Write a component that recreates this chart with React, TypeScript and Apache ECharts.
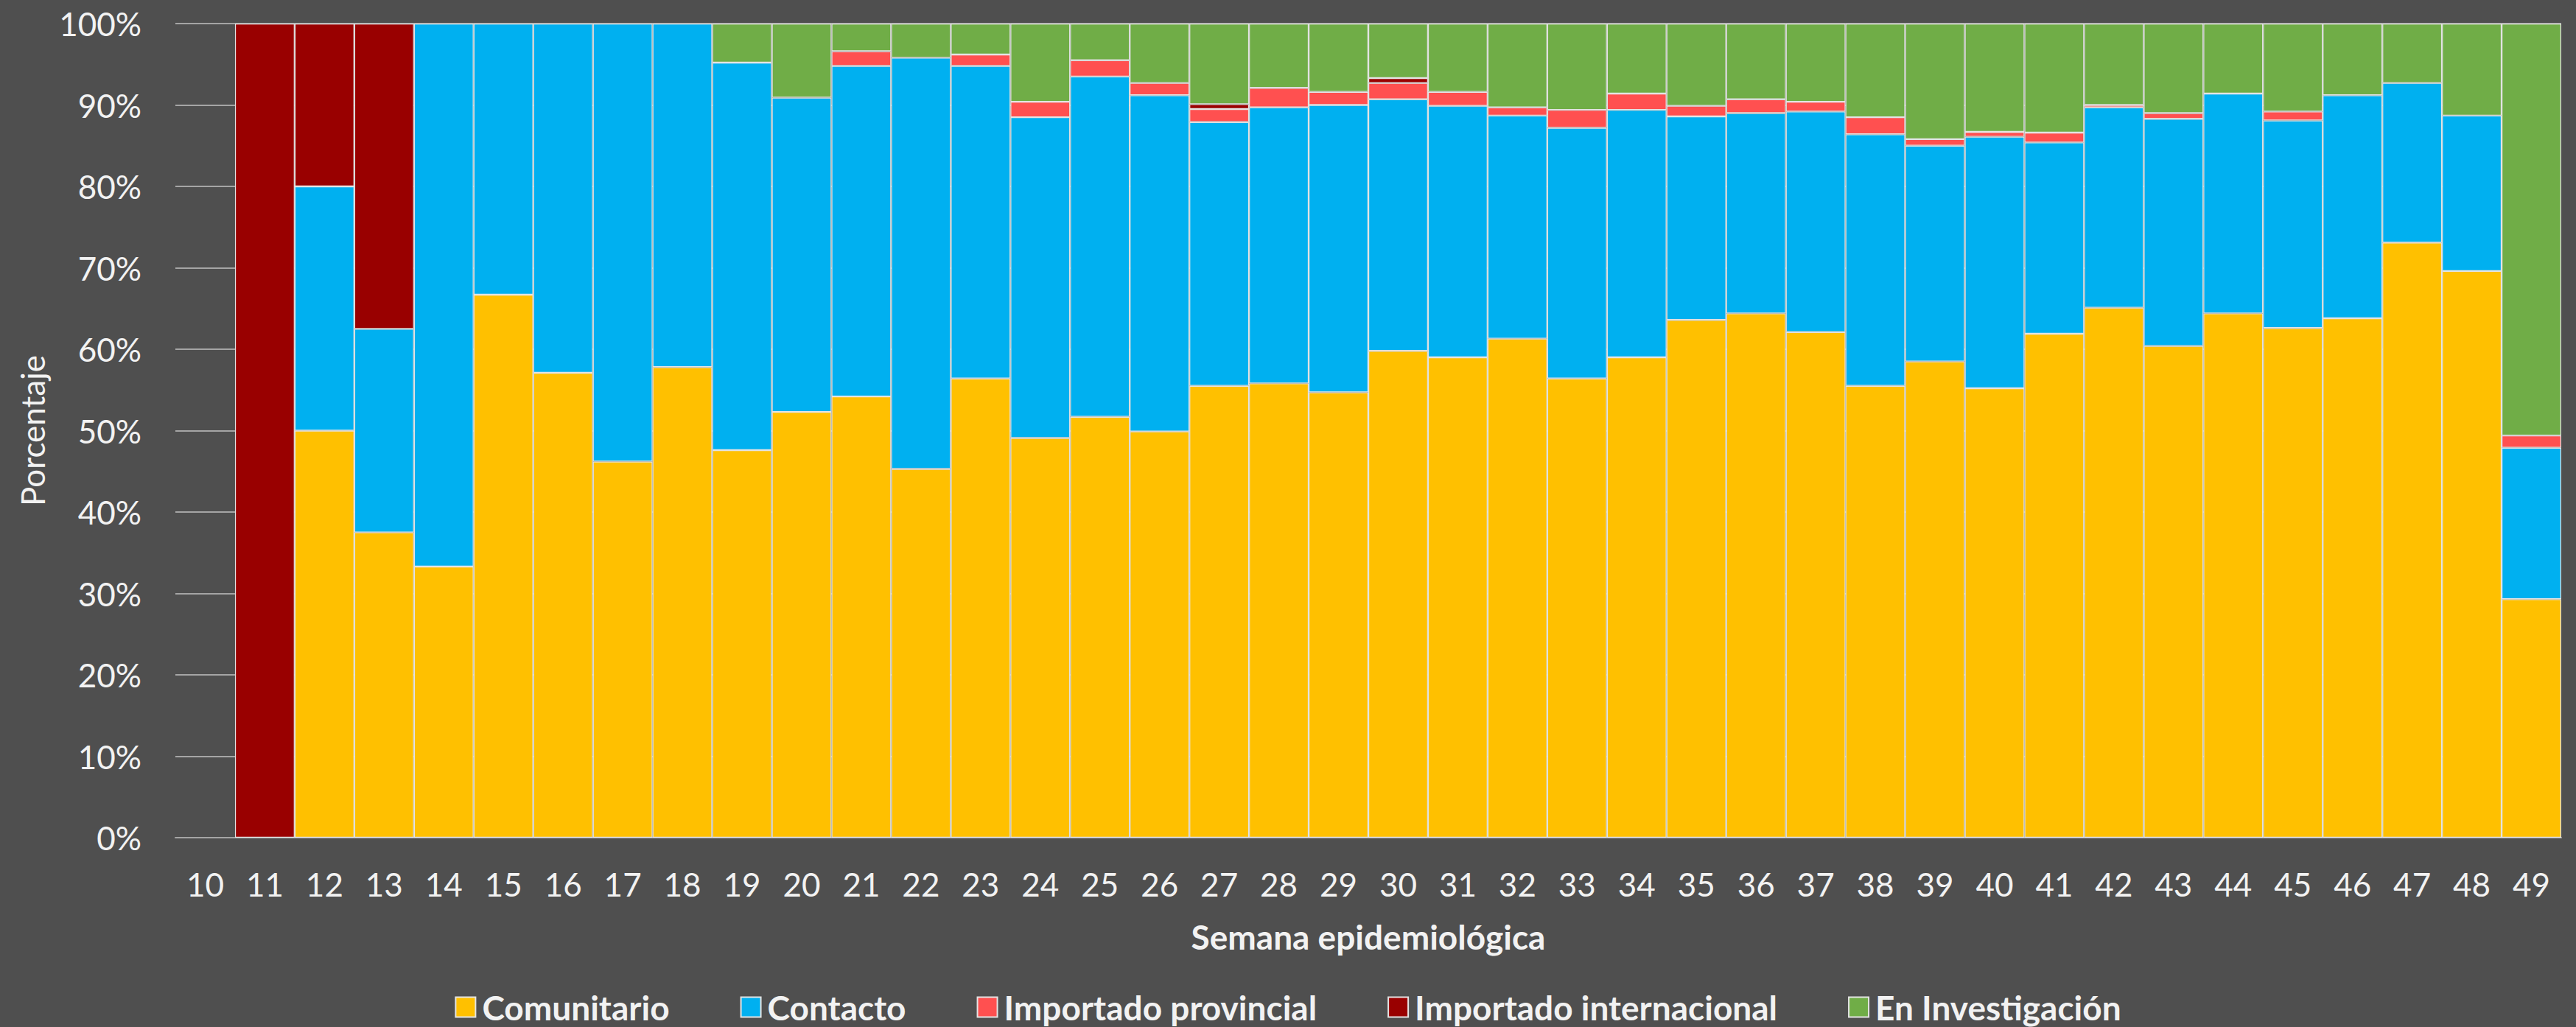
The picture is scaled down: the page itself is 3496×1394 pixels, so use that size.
import React, { useEffect, useRef } from "react";
import * as echarts from "echarts";

const weeks = ["10","11","12","13","14","15","16","17","18","19","20","21","22","23","24","25","26","27","28","29","30","31","32","33","34","35","36","37","38","39","40","41","42","43","44","45","46","47","48","49"];

const comunitario = [0,0,50,37.5,33.3,66.7,57.1,46.2,57.8,47.6,52.3,54.2,45.3,56.4,49.1,51.7,49.9,55.5,55.8,54.7,59.8,59.0,61.3,56.4,59.0,63.6,64.4,62.1,55.5,58.5,55.2,61.9,65.1,60.4,64.4,62.6,63.8,73.1,69.6,29.3];
const contacto = [0,0,30,25,66.7,33.3,42.9,53.8,42.2,47.6,38.6,40.6,50.5,38.4,39.4,41.8,41.3,32.4,33.9,35.3,30.9,30.9,27.4,30.8,30.4,25.0,24.6,27.1,30.9,26.5,30.9,23.5,24.6,27.9,27.0,25.5,27.4,19.6,19.1,18.6];
const importadoProvincial = [0,0,0,0,0,0,0,0,0,0,0,1.8,0,1.4,1.9,2.0,1.5,1.6,2.4,1.6,2.0,1.7,1.0,2.2,2.0,1.3,1.7,1.2,2.1,0.8,0.6,1.2,0.3,0.7,0,1.1,0,0,0,1.5];
const importadoInternacional = [0,100,20,37.5,0,0,0,0,0,0,0,0,0,0,0,0,0,0.6,0,0,0.6,0,0,0,0,0,0,0,0,0,0,0,0,0,0,0,0,0,0,0];
const enInvestigacion = [0,0,0,0,0,0,0,0,0,4.8,9.1,3.4,4.2,3.8,9.6,4.5,7.3,9.9,7.9,8.4,6.7,8.4,10.3,10.6,8.6,10.1,9.3,9.6,11.5,14.2,13.3,13.4,10.0,11.0,8.6,10.8,8.8,7.3,11.3,50.6];

const yTicks = [0, 10, 20, 30, 40, 50, 60, 70, 80, 90, 100];

const seriesDefs = [
  { name: "Comunitario", data: comunitario, color: "#FFC000" },
  { name: "Contacto", data: contacto, color: "#00B0F0" },
  { name: "Importado provincial", data: importadoProvincial, color: "#FF5050" },
  { name: "Importado internacional", data: importadoInternacional, color: "#990000" },
  { name: "En Investigación", data: enInvestigacion, color: "#70AD47" },
];

const FONT = "Lato";
const TEXT = "#f2f2f2";

export default function App() {
  const ref = useRef<HTMLDivElement>(null);
  useEffect(() => {
    if (!ref.current) return;
    const chart = echarts.init(ref.current, null, { renderer: "svg" });
    chart.setOption({
      animation: false,
      backgroundColor: "#4f4f4f",
      textStyle: { fontFamily: FONT },
      grid: { left: 238, right: 20, top: 32, bottom: 257 },
      legend: {
        data: seriesDefs.map((s) => s.name),
        left: "center",
        top: 1344,
        padding: 0,
        itemWidth: 27,
        itemHeight: 27,
        itemGap: 96,
        icon: "rect",
        textStyle: { color: TEXT, fontSize: 46, lineHeight: 46, fontWeight: "bold", fontFamily: FONT, padding: [0, 0, 0, 4] },
      },
      xAxis: {
        type: "category",
        data: weeks,
        name: "Semana epidemiológica",
        nameLocation: "middle",
        nameGap: 111,
        nameTextStyle: { color: TEXT, fontSize: 46, fontWeight: "bold", fontFamily: FONT },
        axisLine: { show: true, lineStyle: { color: "#a5a5a5", width: 2 } },
        axisTick: { show: false },
        axisLabel: { color: TEXT, fontSize: 44, margin: 41, interval: 0, fontFamily: FONT },
      },
      yAxis: {
        type: "value",
        min: yTicks[0],
        max: yTicks[yTicks.length - 1],
        interval: 10,
        name: "Porcentaje",
        nameLocation: "middle",
        nameGap: 172,
        nameTextStyle: { color: TEXT, fontSize: 44, fontFamily: FONT },
        axisLine: { show: false },
        axisTick: { show: false },
        axisLabel: { color: TEXT, fontSize: 44, margin: 46, formatter: "{value}%", fontFamily: FONT },
        splitLine: { show: true, lineStyle: { color: "#a5a5a5", width: 2 } },
      },
      series: seriesDefs.map((s) => ({
        name: s.name,
        type: "bar",
        stack: "total",
        barCategoryGap: "0%",
        data: s.data.map((v) => (v === 0 ? "-" : v)),
        itemStyle: { color: s.color, borderColor: "#e4e4e4", borderWidth: 1.2 },
      })),
    });
    return () => chart.dispose();
  }, []);
  return (
    <div
      ref={ref}
      style={{ position: "absolute", left: 0, top: 0, width: 3496, height: 1394 }}
    />
  );
}
